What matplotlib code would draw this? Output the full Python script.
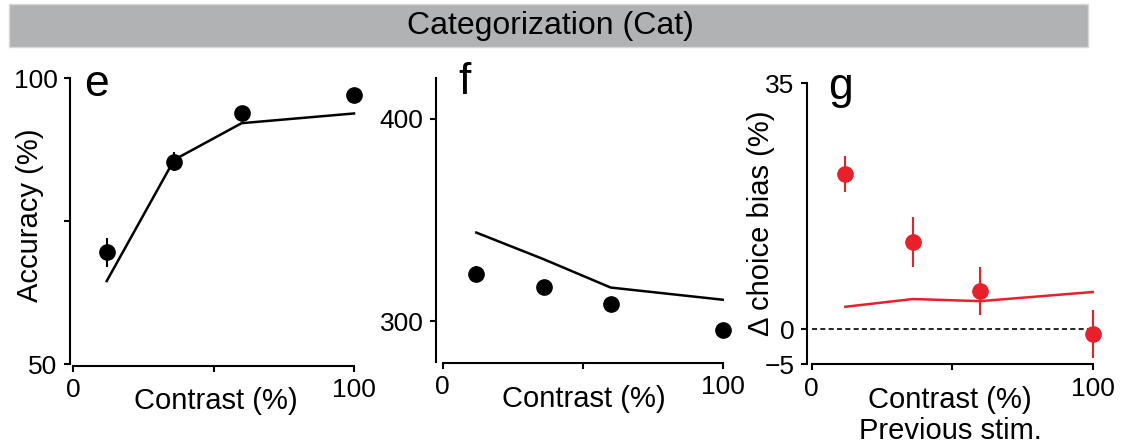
import matplotlib
matplotlib.use("Agg")
import matplotlib.pyplot as plt
from matplotlib.patches import Rectangle

plt.rcParams['font.family'] = ['Liberation Sans', 'DejaVu Sans']

# data
contrast = [12, 36, 60, 100]

acc_data = [69.5, 85.4, 93.9, 97.0]
acc_err = [2.5, 1.7, 0.4, 0.4]
acc_model = [64.5, 85.7, 92.1, 93.8]

rt_data = [323.4, 317.2, 308.7, 295.9]
rt_err = [4.0, 1.0, 1.0, 1.0]
rt_model = [343.8, 330.7, 316.7, 310.7]

bias_data = [22.1, 12.4, 5.4, -0.7]
bias_err = [2.6, 3.6, 3.4, 3.4]
bias_model = [3.2, 4.3, 4.0, 5.3]

W, H = 1122, 444
RED = '#e8202a'


def add_panel(fig, left, right, top, bottom):
    return fig.add_axes([left / W, 1 - bottom / H, (right - left) / W, (bottom - top) / H])


def style_axes(ax, ylim, yticks, yticklabels, left_off, bottom_off):
    ax.set_xlim(0, 100)
    ax.set_ylim(*ylim)
    for side in ['top', 'right']:
        ax.spines[side].set_visible(False)
    ax.spines['left'].set_position(('outward', left_off))
    ax.spines['bottom'].set_position(('outward', bottom_off))
    ax.spines['left'].set_linewidth(1.5)
    ax.spines['bottom'].set_linewidth(1.5)
    ax.spines['bottom'].set_bounds(0, 100)
    ax.set_xticks([0, 50, 100])
    ax.set_xticklabels(['0', '', '100'])
    ax.set_yticks(yticks)
    ax.set_yticklabels(yticklabels)
    ax.tick_params(axis='both', labelsize=19, width=1.5, length=4, pad=5)
    ax.patch.set_alpha(0)


fig = plt.figure(figsize=(W / 100, H / 100), dpi=100)

# title bar
fig.patches.append(Rectangle((9 / W, 1 - 47 / H), (1088 - 9) / W, 43 / H,
                             transform=fig.transFigure, facecolor='#b1b2b4',
                             edgecolor='#d8d8d8', linewidth=1))
fig.text(550 / W, 1 - 26 / H, 'Categorization (Cat)', fontsize=23,
         ha='center', va='center')

# e: accuracy
ax_e = add_panel(fig, 73, 354, 78, 364)
style_axes(ax_e, (50, 100), [50, 75, 100], ['50', '', '100'], 2.2, 1.4)
ax_e.plot(contrast, acc_model, color='black', lw=1.8, clip_on=False)
ax_e.errorbar(contrast, acc_data, yerr=acc_err, fmt='o', color='black',
              ms=11, elinewidth=1.5, capsize=0, clip_on=False)
fig.text(30 / W, 1 - 215 / H, 'Accuracy (%)', fontsize=21, rotation=90,
         ha='center', va='center')
fig.text(216 / W, 1 - 401 / H, 'Contrast (%)', fontsize=21, ha='center', va='center')
fig.text(97 / W, 1 - 85 / H, 'e', fontsize=32, ha='center', va='center')

# f: reaction time
ax_f = add_panel(fig, 442.7, 722.7, 78, 362)
style_axes(ax_f, (280, 420), [300, 400], ['300', '400'], 4.8, 0.7)
ax_f.plot(contrast, rt_model, color='black', lw=1.8, clip_on=False)
ax_f.errorbar(contrast, rt_data, yerr=rt_err, fmt='o', color='black',
              ms=11, elinewidth=1.5, capsize=0, clip_on=False)
fig.text(584 / W, 1 - 399 / H, 'Contrast (%)', fontsize=21, ha='center', va='center')
fig.text(465 / W, 1 - 82 / H, 'f', fontsize=32, ha='center', va='center')

# g: choice bias
ax_g = add_panel(fig, 811.7, 1092.7, 83.3, 364.4)
style_axes(ax_g, (-5, 35), [-5, 0, 35], ['\u22125', '0', '35'], 3.6, 0)
ax_g.plot([0, 100], [0, 0], color='black', lw=1.2, ls=(0, (3, 2)))
ax_g.plot(contrast, bias_model, color=RED, lw=1.8, clip_on=False)
ax_g.errorbar(contrast, bias_data, yerr=bias_err, fmt='o', color=RED,
              ms=11, elinewidth=1.5, capsize=0, clip_on=False)
fig.text(761 / W, 1 - 223 / H, '\u0394 choice bias (%)', fontsize=21, rotation=90,
         ha='center', va='center')
fig.text(950 / W, 1 - 400 / H, 'Contrast (%)', fontsize=21, ha='center', va='center')
fig.text(950 / W, 1 - 431 / H, 'Previous stim.', fontsize=21, ha='center', va='center')
fig.text(840 / W, 1 - 88 / H, 'g', fontsize=32, ha='center', va='center')

fig.savefig('out.png', dpi=100)
